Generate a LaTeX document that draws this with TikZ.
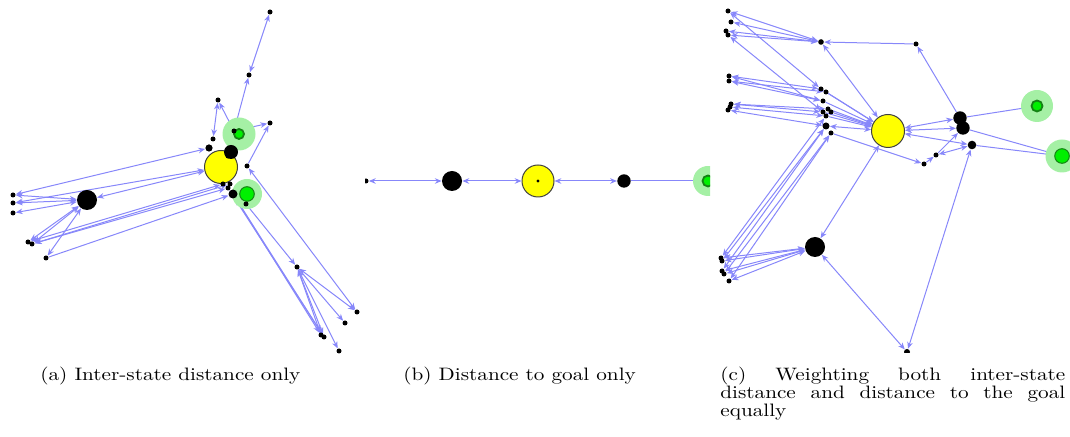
\documentclass[tikz,border=0pt]{standalone}
\usetikzlibrary{arrows.meta}
\definecolor{eb}{RGB}{135,135,250}
\definecolor{halo}{RGB}{165,240,165}
\definecolor{gbright}{RGB}{0,240,0}
\definecolor{gdark}{RGB}{20,130,20}
\definecolor{yel}{RGB}{255,255,0}
\pgfdeclarelayer{edges}
\pgfsetlayers{edges,main}
\tikzset{
 sd/.style={circle,fill=black,inner sep=0pt,minimum size=2.5pt},
 ld/.style={circle,fill=black,inner sep=0pt,minimum size=#1},
 yn/.style={circle,fill=yel,draw=black!75,line width=0.5pt,inner sep=0pt,minimum size=#1},
 hal/.style={circle,fill=halo,inner sep=0pt,minimum size=#1},
 gring/.style={circle,fill=gbright,draw=gdark,line width=0.9pt,inner sep=0pt,minimum size=#1},
 gdisc/.style={circle,fill=gbright,draw=gdark,line width=0.5pt,inner sep=0pt,minimum size=#1},
 ar/.style={draw=eb,line width=0.5pt,-{Stealth[length=3.4pt,width=2.8pt]}},
 br/.style={draw=eb,line width=0.5pt,{Stealth[length=3.4pt,width=2.8pt]}-{Stealth[length=3.4pt,width=2.8pt]}},
 captxt/.style={inner sep=0pt,anchor=base west,font=\fontsize{10}{10}\selectfont}
}
\begin{document}
\begin{tikzpicture}[x=0.5pt,y=-0.5pt]
\useasboundingbox (0,0) rectangle (1070,437);
% ---------------- panel (a)
\node[sd] (a1) at (270,12) {};
\node[sd] (a2) at (249,75) {};
\node[sd] (a3) at (218,100) {};
\node[hal=16.5pt] (ag1h) at (239,134) {};
\node[gring=5pt] (ag1) at (239,134) {};
\node[sd] (a4) at (234,131) {};
\node[sd] (a5) at (270,123) {};
\node[sd] (a6) at (213,139) {};
\node[ld=3.6pt] (a7) at (209,148) {};
\node[yn=16.5pt] (ay) at (221,167) {};
\node[ld=7pt] (a8) at (231,152) {};
\node[sd] (a9) at (228,156) {};
\node[sd] (a10) at (247,166) {};
\node[sd] (a11) at (223,184) {};
\node[sd] (a12) at (230,184) {};
\node[sd] (a13) at (228,188) {};
\node[hal=15pt] (ag2h) at (247,194) {};
\node[gdisc=7.3pt] (ag2) at (247,194) {};
\node[ld=4.5pt] (a14) at (233,194) {};
\node[sd] (a15) at (246,204) {};
\node[ld=10pt] (ab) at (87,200) {};
\node[sd] (a16) at (13,195) {};
\node[sd] (a17) at (13,203) {};
\node[sd] (a18) at (13,213) {};
\node[sd] (a19) at (28,242) {};
\node[sd] (a20) at (32,244) {};
\node[sd] (a21) at (46,258) {};
\node[sd] (a22) at (297,267) {};
\node[sd] (a23) at (357,312) {};
\node[sd] (a24) at (345,323) {};
\node[sd] (a25) at (321,335) {};
\node[sd] (a26) at (324,337) {};
\node[sd] (a27) at (339,351) {};
\begin{pgfonlayer}{edges}
\draw[br] (a1) -- (a2);
\draw[br] (a2) -- (a4);
\draw[br] (a3) -- (a6);
\draw[br] (a3) -- (a4);
\draw[ar] (a4) -- (a5);
\draw[ar] (a10) -- (a5);
\draw[br] (a10) -- (a23);
\draw[ar] (a8) -- (ag1);
\draw[br] (a16) -- (a7);
\draw[br] (a17) -- (ay);
\draw[br] (ay) -- (ab);
\draw[br] (ab) -- (a16);
\draw[br] (ab) -- (a17);
\draw[br] (ab) -- (a18);
\draw[br] (ab) -- (a19);
\draw[br] (ab) -- (a20);
\draw[br] (ab) -- (a21);
\draw[br] (a19) -- (a11);
\draw[br] (a20) -- (a12);
\draw[br] (a20) -- (a13);
\draw[ar] (a21) -- (a14);
\draw[br] (a14) -- (a25);
\draw[br] (a14) -- (a26);
\draw[br] (a13) -- (a26);
\draw[ar] (a15) -- (a22);
\draw[br] (a22) -- (a23);
\draw[ar] (a22) -- (a24);
\draw[br] (a22) -- (a25);
\draw[br] (a22) -- (a26);
\draw[ar] (a22) -- (a27);
\end{pgfonlayer}
% ---------------- panel (b)
\begin{scope}
\clip (365,0) rectangle (710,355);
\node[sd] (b1) at (366,181) {};
\node[ld=10pt] (b2) at (452,181) {};
\node[yn=16pt] (b3) at (538,181) {};
\node[ld=1.6pt] (b3c) at (538,181) {};
\node[ld=6.7pt] (b4) at (624,181) {};
\node[hal=15pt] (bgh) at (708,181) {};
\node[gring=5.5pt] (bg) at (708,181) {};
\end{scope}
\begin{pgfonlayer}{edges}
\draw[br] (b1) -- (b2);
\draw[br] (b2) -- (b3);
\draw[br] (b3) -- (b4);
\draw[ar] (b4) -- (bg);
\end{pgfonlayer}
% ---------------- panel (c)
\begin{scope}
\clip (715,0) rectangle (1070,353);
\node[sd] (c1) at (728,11) {};
\node[sd] (c2) at (731,22) {};
\node[sd] (c3) at (726,31) {};
\node[sd] (c4) at (728,35) {};
\node[ld=2.8pt] (c5) at (821,42) {};
\node[sd] (c6) at (916,44) {};
\node[sd] (c7) at (729,76) {};
\node[sd] (c8) at (729,81) {};
\node[sd] (c9) at (821,89) {};
\node[sd] (c10) at (826,92) {};
\node[sd] (c11) at (823,101) {};
\node[sd] (c12) at (731,104) {};
\node[sd] (c13) at (730,107) {};
\node[sd] (c14) at (728,110) {};
\node[sd] (c15) at (823,112) {};
\node[sd] (c16) at (828,109) {};
\node[sd] (c17) at (831,112) {};
\node[sd] (c18) at (826,116) {};
\node[ld=3.5pt] (c19) at (826,126) {};
\node[sd] (c20) at (831,133) {};
\node[yn=16.5pt] (cy) at (888,131) {};
\node[ld=6.7pt] (c21) at (960,118) {};
\node[ld=6.7pt] (c22) at (963,128) {};
\node[ld=4.3pt] (c23) at (972,145) {};
\node[sd] (c24) at (936,155) {};
\node[sd] (c25) at (924,164) {};
\node[hal=16pt] (cg1h) at (1037,106) {};
\node[gring=5.5pt] (cg1) at (1037,106) {};
\node[hal=16.5pt] (cg2h) at (1062,156) {};
\node[gdisc=7.3pt] (cg2) at (1062,156) {};
\node[ld=10pt] (cb) at (815,247) {};
\node[sd] (c26) at (721,258) {};
\node[sd] (c27) at (722,261) {};
\node[sd] (c28) at (722,271) {};
\node[sd] (c29) at (724,274) {};
\node[sd] (c30) at (729,281) {};
\node[ld=3pt] (c31) at (907,352) {};
\end{scope}
\begin{pgfonlayer}{edges}
\draw[br] (c5) -- (c1);
\draw[br] (c5) -- (c2);
\draw[br] (c5) -- (c3);
\draw[br] (c5) -- (c4);
\draw[ar] (c6) -- (c5);
\draw[ar] (c21) -- (c6);
\draw[br] (cy) -- (c5);
\draw[br] (c1) -- (c9);
\draw[br] (c4) -- (c15);
\draw[br] (c9) -- (c7);
\draw[br] (c10) -- (c8);
\draw[br] (c11) -- (c8);
\draw[br] (c11) -- (c7);
\draw[br] (c15) -- (c12);
\draw[br] (c16) -- (c12);
\draw[br] (c18) -- (c13);
\draw[br] (c19) -- (c14);
\draw[ar] (c9) -- (cy);
\draw[ar] (c10) -- (cy);
\draw[ar] (c11) -- (cy);
\draw[ar] (c15) -- (cy);
\draw[ar] (c16) -- (cy);
\draw[ar] (c17) -- (cy);
\draw[ar] (c18) -- (cy);
\draw[br] (c19) -- (cy);
\draw[ar] (c20) -- (c25);
\draw[ar] (c25) -- (c24);
\draw[br] (c24) -- (c23);
\draw[ar] (c24) -- (c22);
\draw[br] (cy) -- (c21);
\draw[br] (cy) -- (c22);
\draw[br] (cy) -- (c23);
\draw[ar] (c21) -- (cg1);
\draw[ar] (c22) -- (cg2);
\draw[ar] (c23) -- (cg2);
\draw[br] (c23) -- (c31);
\draw[br] (cy) -- (cb);
\draw[br] (cb) -- (c31);
\draw[br] (cb) -- (c26);
\draw[br] (cb) -- (c27);
\draw[br] (cb) -- (c28);
\draw[br] (cb) -- (c29);
\draw[br] (cb) -- (c30);
\draw[br] (c26) -- (c18);
\draw[br] (c27) -- (c19);
\draw[br] (c28) -- (c19);
\draw[br] (c29) -- (c20);
\draw[br] (c30) -- (c20);
\end{pgfonlayer}
% ---------------- captions
\node[captxt] (capa) at (40,381) {\scalebox{1.06}[0.9]{(a) Inter-state distance only}};
\node[captxt] (capb) at (403,381) {\scalebox{1.06}[0.9]{(b) Distance to goal only}};
\node[captxt] (capc) at (720,381) {\scalebox{1.06}[0.9]{\parbox[t]{162.7pt}{\fontsize{10}{10}\selectfont\hyphenpenalty=10000\exhyphenpenalty=10000 (c) Weighting both inter-state distance and distance to the goal equally}}};
\end{tikzpicture}
\end{document}
